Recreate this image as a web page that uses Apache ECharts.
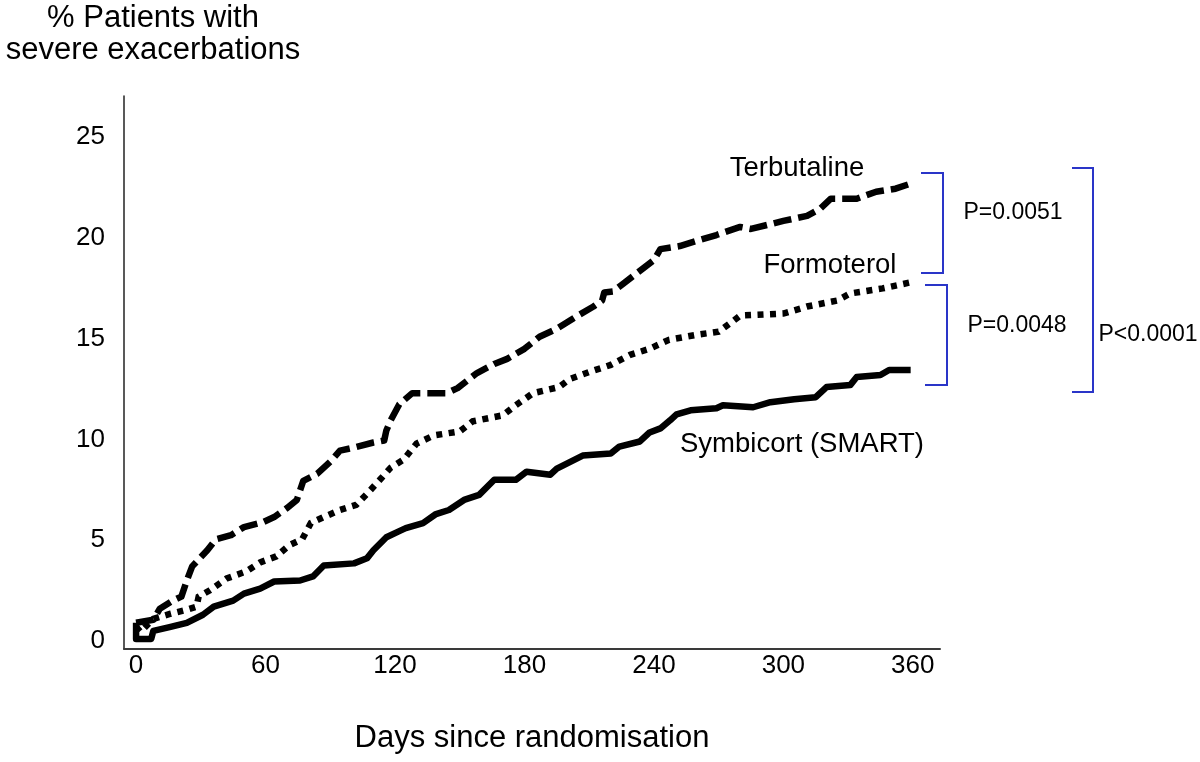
<!DOCTYPE html>
<html>
<head>
<meta charset="utf-8">
<script src="https://cdn.jsdelivr.net/npm/echarts@6/dist/echarts.min.js"></script>
<style>html,body{margin:0;padding:0;background:#fff}#chart{width:1200px;height:762px}</style>
</head>
<body>
<div id="chart"></div>
<script>
// ---- data ----
const xTickValues = [0, 60, 120, 180, 240, 300, 360];
const yTickValues = [0, 5, 10, 15, 20, 25];

const terbDays   = [0, 8, 11, 17, 21, 23.5, 26, 33, 37, 44, 50, 59, 64, 70, 74.5, 77.5, 84, 90, 94.5, 101, 110, 115, 116, 118, 122, 128, 144, 149, 158, 166, 172, 180, 187, 195, 204, 212, 216, 217, 221, 226, 232, 240, 243, 252, 261, 269, 280, 285, 300, 311, 317, 322, 334, 343, 352, 359];
const terbValues = [0.9, 1.05, 1.6, 2.0, 2.2, 3.0, 3.7, 4.5, 5.05, 5.25, 5.65, 5.9, 6.15, 6.6, 7.0, 7.95, 8.3, 8.9, 9.45, 9.6, 9.85, 9.95, 10.45, 10.95, 11.75, 12.3, 12.3, 12.55, 13.3, 13.75, 14.0, 14.5, 15.1, 15.5, 16.1, 16.6, 16.9, 17.3, 17.35, 17.75, 18.25, 18.9, 19.45, 19.6, 19.9, 20.15, 20.55, 20.45, 20.85, 21.1, 21.45, 21.95, 21.95, 22.3, 22.45, 22.7];

const formDays   = [0, 2, 8, 16, 23.5, 28, 29, 34, 42, 51, 57.5, 65, 71, 77, 81, 87, 94.5, 102, 107, 113, 118, 124, 130, 138, 150, 156, 170, 176, 184, 196, 201, 210, 220, 229, 238, 247, 260, 270, 277, 280, 300, 311, 325, 331, 346, 359];
const formValues = [0.7, 0.45, 1.1, 1.35, 1.55, 1.7, 2.2, 2.5, 3.1, 3.45, 3.9, 4.2, 4.75, 5.05, 5.85, 6.15, 6.5, 6.75, 7.3, 8.0, 8.6, 9.0, 9.8, 10.2, 10.4, 10.9, 11.2, 11.7, 12.3, 12.6, 13.0, 13.35, 13.7, 14.2, 14.5, 14.95, 15.2, 15.35, 15.9, 16.15, 16.25, 16.6, 16.9, 17.25, 17.5, 17.8];

const symbDays   = [0, 0, 7, 8, 16, 23.5, 31, 36, 45, 50, 57.5, 64, 76, 82, 87, 101, 107, 110, 116, 122, 125, 133, 139, 145, 152, 159, 166, 176, 181, 192, 195, 207, 220, 224, 233.5, 238, 243, 247.5, 250.5, 257, 269, 272, 286, 294, 305, 315, 320, 331, 334, 345, 349, 359];
const symbValues = [0.9, 0.1, 0.1, 0.5, 0.7, 0.9, 1.3, 1.7, 2.0, 2.35, 2.6, 2.95, 3.0, 3.2, 3.75, 3.85, 4.1, 4.5, 5.15, 5.45, 5.6, 5.85, 6.3, 6.5, 7.0, 7.25, 8.0, 8.0, 8.4, 8.25, 8.55, 9.2, 9.3, 9.65, 9.9, 10.35, 10.55, 10.95, 11.25, 11.45, 11.55, 11.7, 11.6, 11.85, 12.0, 12.1, 12.6, 12.7, 13.1, 13.2, 13.45, 13.45];

const seriesNames = ['Terbutaline', 'Formoterol', 'Symbicort (SMART)'];
const pLabels = ['P=0.0051', 'P=0.0048', 'P<0.0001'];
const titleLines = ['% Patients with', 'severe exacerbations'];
const xAxisName = 'Days since randomisation';

const zip = (a, b) => a.map((d, i) => [d, b[i]]);
const FONT = '"Liberation Sans", Arial, sans-serif';
const BLUE = '#2a35c8';

const chart = echarts.init(document.getElementById('chart'), null, { renderer: 'canvas' });

const lineBase = { type: 'line', symbol: 'none', smooth: false, silent: true, animation: false };

chart.setOption({
  backgroundColor: '#ffffff',
  animation: false,
  grid: { left: 124, right: 260, top: 96, bottom: 113, containLabel: false },
  xAxis: {
    type: 'value', min: -5.6, max: 372.6,
    name: xAxisName, nameLocation: 'middle', nameGap: 74,
    nameTextStyle: { fontFamily: FONT, fontSize: 31, color: '#000' },
    axisLine: { show: true, onZero: false, lineStyle: { color: '#3a3a3a', width: 2 } },
    axisTick: { show: false },
    splitLine: { show: false },
    axisLabel: { customValues: xTickValues, fontFamily: FONT, fontSize: 26, color: '#000', margin: 4 }
  },
  yAxis: {
    type: 'value', min: -0.4, max: 27.05,
    axisLine: { show: true, onZero: false, lineStyle: { color: '#222', width: 1.5 } },
    axisTick: { show: false },
    splitLine: { show: false },
    axisLabel: { customValues: yTickValues, fontFamily: FONT, fontSize: 26, color: '#000', margin: 19 }
  },
  series: [
    Object.assign({}, lineBase, { name: seriesNames[0], data: zip(terbDays, terbValues),
      lineStyle: { color: '#000', width: 6.5, type: [18, 7], cap: 'butt', join: 'round' } }),
    Object.assign({}, lineBase, { name: seriesNames[1], data: zip(formDays, formValues),
      lineStyle: { color: '#000', width: 6.5, type: [6, 6.5], cap: 'butt', join: 'miter' } }),
    Object.assign({}, lineBase, { name: seriesNames[2], data: zip(symbDays, symbValues),
      lineStyle: { color: '#000', width: 6.5, type: 'solid', cap: 'butt', join: 'round' } })
  ],
  graphic: [
    { type: 'text', x: 153, y: 2, style: { text: titleLines.join('\n'), font: '31px ' + FONT, fill: '#000', textAlign: 'center', lineHeight: 32 } },
    { type: 'text', x: 797, y: 168, style: { text: seriesNames[0], font: '27.5px ' + FONT, fill: '#000', textAlign: 'center', textVerticalAlign: 'middle' } },
    { type: 'text', x: 830, y: 265, style: { text: seriesNames[1], font: '27.5px ' + FONT, fill: '#000', textAlign: 'center', textVerticalAlign: 'middle' } },
    { type: 'text', x: 802, y: 444, style: { text: seriesNames[2], font: '27.5px ' + FONT, fill: '#000', textAlign: 'center', textVerticalAlign: 'middle' } },
    // brackets
    { type: 'polyline', shape: { points: [[921, 173], [943, 173], [943, 273], [921, 273]] }, style: { stroke: BLUE, lineWidth: 2, fill: null } },
    { type: 'polyline', shape: { points: [[925, 285], [947, 285], [947, 385], [925, 385]] }, style: { stroke: BLUE, lineWidth: 2, fill: null } },
    { type: 'polyline', shape: { points: [[1072, 168], [1093, 168], [1093, 392], [1072, 392]] }, style: { stroke: BLUE, lineWidth: 2, fill: null } },
    { type: 'text', x: 1013, y: 213, style: { text: pLabels[0], font: '23px ' + FONT, fill: '#000', textAlign: 'center', textVerticalAlign: 'middle' } },
    { type: 'text', x: 1017, y: 326, style: { text: pLabels[1], font: '23px ' + FONT, fill: '#000', textAlign: 'center', textVerticalAlign: 'middle' } },
    { type: 'text', x: 1148, y: 335, style: { text: pLabels[2], font: '23px ' + FONT, fill: '#000', textAlign: 'center', textVerticalAlign: 'middle' } }
  ]
});
</script>
</body>
</html>
